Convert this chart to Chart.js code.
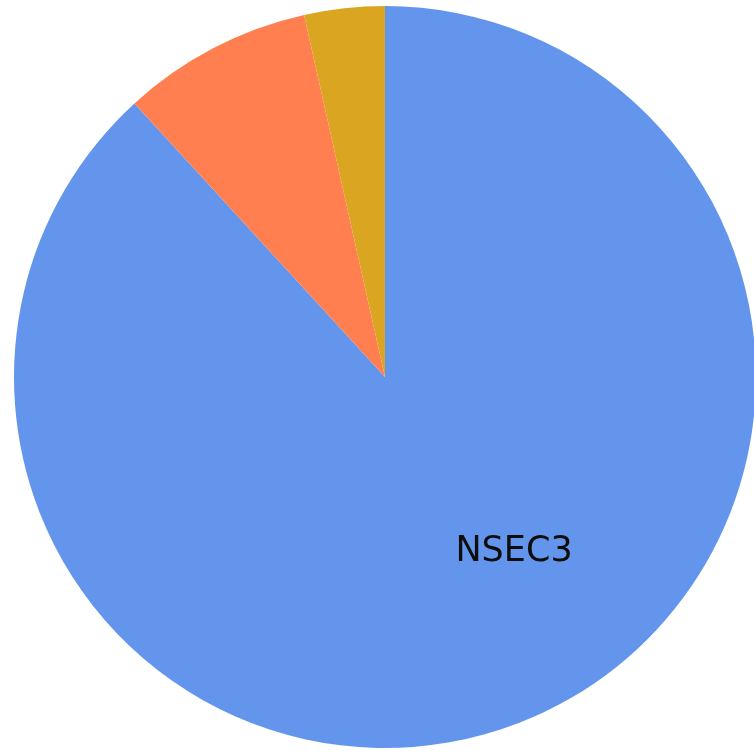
<!DOCTYPE html>
<html>
<head>
<meta charset="utf-8">
<script src="https://cdn.jsdelivr.net/npm/chart.js@4/dist/chart.umd.min.js"></script>
<style>
  html, body { margin: 0; padding: 0; background: #fff; overflow: hidden; width: 754px; height: 754px; }
  #wrap { position: absolute; left: 14px; top: 6px; width: 742px; height: 742px; }
</style>
</head>
<body>
<div id="wrap"><canvas id="pie" width="742" height="742"></canvas></div>
<script>
// record types and their share (%)
const recordTypes = ['NSEC3', 'NSEC', 'Unsigned'];
const shares = [88.2, 8.3, 3.5];
const sliceColors = ['#6495ED', '#FF7F50', '#DAA520'];
// only slices large enough get a label
const labelMinShare = 20;

// write the type name inside the big slices
const sliceLabels = {
  id: 'sliceLabels',
  afterDatasetsDraw(chart) {
    const ctx = chart.ctx;
    const meta = chart.getDatasetMeta(0);
    ctx.save();
    ctx.font = '35px "DejaVu Sans", sans-serif';
    ctx.fillStyle = '#0d0d0d';
    ctx.textAlign = 'center';
    ctx.textBaseline = 'middle';
    meta.data.forEach((arc, i) => {
      if (shares[i] < labelMinShare) return;
      const p = arc.getProps(['x', 'y', 'startAngle', 'endAngle', 'outerRadius'], true);
      const a = p.startAngle + (p.endAngle - p.startAngle) * 0.452;
      const r = p.outerRadius * 0.585;
      ctx.fillText(recordTypes[i], p.x + Math.cos(a) * r, p.y + Math.sin(a) * r);
    });
    ctx.restore();
  }
};

new Chart(document.getElementById('pie').getContext('2d'), {
  type: 'pie',
  data: {
    labels: recordTypes,
    datasets: [{
      data: shares,
      backgroundColor: sliceColors,
      borderWidth: 0
    }]
  },
  options: {
    responsive: false,
    animation: false,
    layout: { padding: 0 },
    plugins: {
      legend: { display: false },
      tooltip: { enabled: false }
    }
  },
  plugins: [sliceLabels]
});
</script>
</body>
</html>
